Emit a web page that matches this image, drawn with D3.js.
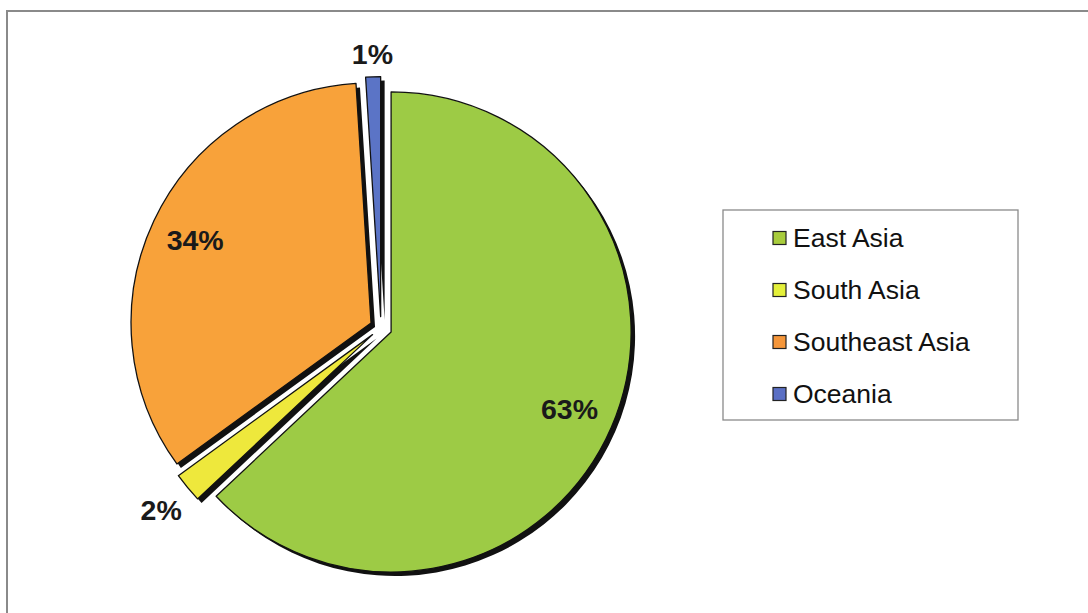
<!DOCTYPE html>
<html>
<head>
<meta charset="utf-8">
<script src="https://cdn.jsdelivr.net/npm/d3@7"></script>
<style>
  html, body { margin: 0; padding: 0; background: #fff; }
  svg { display: block; }
</style>
</head>
<body>
<svg id="chart" width="1088" height="613"></svg>
<script>
const categories = ["East Asia", "South Asia", "Southeast Asia", "Oceania"];
const values = [63, 2, 34, 1];
const labels = ["63%", "2%", "34%", "1%"];
const colors = ["#9DCB45", "#EEE83C", "#F8A23A", "#5B74C6"];
const legendColors = ["#A8CC3C", "#E4F03A", "#F5963A", "#5A6FC4"];

const svg = d3.select("#chart");

// outer frame
svg.append("rect")
  .attr("x", 7).attr("y", 11).attr("width", 1200).attr("height", 800)
  .attr("fill", "none").attr("stroke", "#8a8a8a").attr("stroke-width", 2);

const cx = 381, cy = 327.6, r = 240, explode = 11;
const shadow = 4;

const pie = d3.pie().sort(null).value(d => d.v).startAngle(0).endAngle(2 * Math.PI);
const arcs = pie(categories.map((c, i) => ({ c, v: values[i], l: labels[i] })));
const arc = d3.arc().innerRadius(0).outerRadius(r);
const color = d3.scaleOrdinal().domain(categories).range(colors);

const g = svg.append("g").attr("transform", `translate(${cx},${cy})`);

function off(d) {
  const m = (d.startAngle + d.endAngle) / 2;
  return [Math.sin(m) * explode, -Math.cos(m) * explode];
}

// shadows
g.selectAll("path.shadow").data(arcs).join("path")
  .attr("class", "shadow")
  .attr("d", arc)
  .attr("fill", "#111")
  .attr("transform", d => { const o = off(d); return `translate(${o[0] + shadow},${o[1] + shadow})`; });

// slices
g.selectAll("path.slice").data(arcs).join("path")
  .attr("class", "slice")
  .attr("d", arc)
  .attr("fill", d => color(d.data.c))
  .attr("stroke", "#111").attr("stroke-width", 1.3).attr("stroke-linejoin", "round")
  .attr("transform", d => { const o = off(d); return `translate(${o[0]},${o[1]})`; });

// labels
g.selectAll("text.lbl").data(arcs).join("text")
  .attr("class", "lbl")
  .attr("text-anchor", "middle")
  .attr("dy", "0.36em")
  .attr("font-family", "'Liberation Sans', Arial, sans-serif")
  .attr("font-weight", "bold")
  .attr("font-size", 28.5)
  .attr("fill", "#1a1a1a")
  .text(d => d.data.l)
  .attr("transform", function(d) {
    const o = off(d);
    const m = (d.startAngle + d.endAngle) / 2;
    const big = (d.endAngle - d.startAngle) > 0.3;
    let rr;
    if (big) {
      rr = r * 0.81;
    } else {
      const w = this.getComputedTextLength();
      const h = 20;
      rr = r + 12 + Math.abs(Math.sin(m)) * w / 2 + Math.abs(Math.cos(m)) * h / 2;
    }
    return `translate(${o[0] + Math.sin(m) * rr},${o[1] - Math.cos(m) * rr})`;
  });

// legend
const lg = svg.append("g");
lg.append("rect")
  .attr("x", 723).attr("y", 210).attr("width", 295).attr("height", 210)
  .attr("fill", "#fff").attr("stroke", "#8a8a8a").attr("stroke-width", 1.3);

const ly = d3.scalePoint().domain(categories).range([238, 394]);
const items = lg.selectAll("g.item").data(categories).join("g")
  .attr("class", "item")
  .attr("transform", d => `translate(0,${ly(d)})`);
items.append("rect")
  .attr("x", 773).attr("y", -6.5).attr("width", 13).attr("height", 13)
  .attr("fill", (d, i) => legendColors[i])
  .attr("stroke", "#222").attr("stroke-width", 1.2);
items.append("text")
  .attr("transform", "translate(793,0) scale(1.06,1)")
  .attr("dy", "0.36em")
  .attr("font-family", "'Liberation Sans', Arial, sans-serif")
  .attr("font-size", 25)
  .attr("fill", "#111")
  .text(d => d);
</script>
</body>
</html>
